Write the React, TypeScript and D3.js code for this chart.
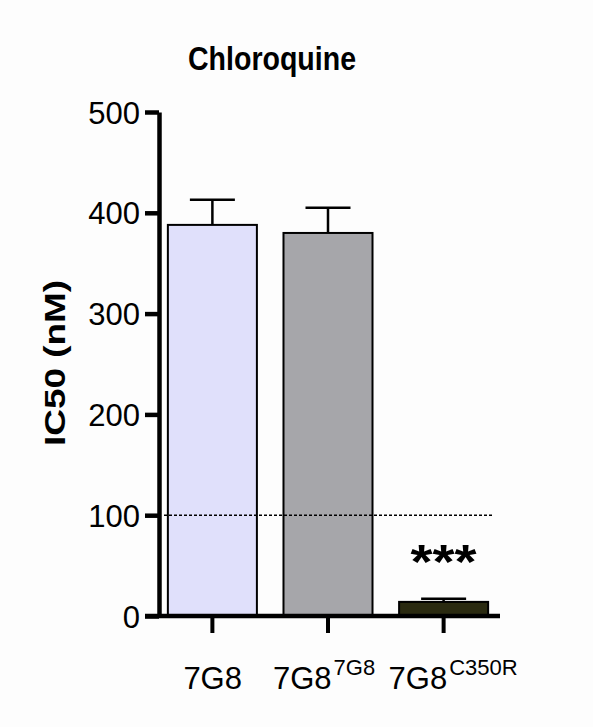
import { useEffect, useRef } from 'react'
import * as d3 from 'd3'

const strains = ['7G8', '7G8', '7G8']
const superscripts = ['', '7G8', 'C350R']
const ic50 = [388, 380, 14]
const sem = [25, 25, 3]
const barColors = ['#e0e0fb', '#a6a6aa', '#2a2a10']
const yTicks = [0, 100, 200, 300, 400, 500]
const threshold = 100

export default function App() {
  const svgRef = useRef<SVGSVGElement>(null)
  const width = 593
  const height = 727

  useEffect(() => {
    if (!svgRef.current) return
    const svg = d3.select(svgRef.current)
    svg.selectAll('*').remove()

    const font = 'Liberation Sans, Arial, sans-serif'

    const yScale = d3.scaleLinear().domain([0, 500]).range([616, 112])
    const xScale = d3.scaleBand<number>()
      .domain(d3.range(strains.length))
      .range([154, 502])
      .paddingInner(0.23)
      .paddingOuter(0.12)

    svg.append('rect').attr('width', width).attr('height', height).attr('fill', '#fdfdfd')

    // title
    svg.append('text')
      .attr('x', 272).attr('y', 70)
      .attr('text-anchor', 'middle')
      .attr('font-family', font)
      .attr('font-weight', 'bold')
      .attr('font-size', 33)
      .attr('textLength', 168)
      .attr('lengthAdjust', 'spacingAndGlyphs')
      .text('Chloroquine')

    // bars
    const bw = xScale.bandwidth()
    svg.selectAll('.bar')
      .data(ic50)
      .enter().append('rect')
      .attr('x', (d, i) => xScale(i)!)
      .attr('y', d => yScale(d))
      .attr('width', bw)
      .attr('height', d => yScale(0) - yScale(d))
      .attr('fill', (d, i) => barColors[i])
      .attr('stroke', '#000')
      .attr('stroke-width', 2)

    // error bars
    const capW = 45
    ic50.forEach((v, i) => {
      const cx = xScale(i)! + bw / 2
      svg.append('line')
        .attr('x1', cx).attr('x2', cx)
        .attr('y1', yScale(v)).attr('y2', yScale(v + sem[i]))
        .attr('stroke', '#000').attr('stroke-width', 2.5)
      svg.append('line')
        .attr('x1', cx - capW / 2).attr('x2', cx + capW / 2)
        .attr('y1', yScale(v + sem[i])).attr('y2', yScale(v + sem[i]))
        .attr('stroke', '#000').attr('stroke-width', 2.5)
    })

    // dotted threshold line
    svg.append('line')
      .attr('x1', 164).attr('x2', 494)
      .attr('y1', yScale(threshold)).attr('y2', yScale(threshold))
      .attr('stroke', '#000').attr('stroke-width', 1.5)
      .attr('stroke-dasharray', '3,2')

    // y axis
    const yAxis = svg.append('g')
      .attr('transform', 'translate(159,0)')
      .call(d3.axisLeft(yScale).tickValues(yTicks).tickSize(14).tickSizeOuter(0).tickPadding(5))
    yAxis.select('.domain').attr('stroke-width', 4.5).attr('stroke', '#000')
    yAxis.selectAll('.tick line').attr('stroke-width', 4.5).attr('stroke', '#000')
    yAxis.selectAll('.tick text')
      .attr('font-family', font).attr('font-size', 31).attr('fill', '#000')
      .attr('dy', '0.36em')

    // x axis
    const xAxisG = svg.append('g').attr('transform', `translate(0,${yScale(0)})`)
    xAxisG.append('line')
      .attr('x1', 145).attr('x2', 500)
      .attr('stroke', '#000').attr('stroke-width', 4.5)
    xAxisG.selectAll('.xt')
      .data(strains)
      .enter().append('line')
      .attr('x1', (d, i) => xScale(i)! + bw / 2)
      .attr('x2', (d, i) => xScale(i)! + bw / 2)
      .attr('y1', 0).attr('y2', 17)
      .attr('stroke', '#000').attr('stroke-width', 4)

    // x labels: main text centred left of the tick when a superscript follows
    strains.forEach((s, i) => {
      const cx = xScale(i)! + bw / 2 - (superscripts[i] ? 26 : 0)
      const t = svg.append('text')
        .attr('x', cx - 29).attr('y', 689)
        .attr('text-anchor', 'start')
        .attr('font-family', font)
        .attr('font-size', 31)
        .attr('fill', '#000')
      t.append('tspan').text(s)
      if (superscripts[i]) {
        t.append('tspan')
          .attr('font-size', 22)
          .attr('dy', -14)
          .attr('dx', 2)
          .text(superscripts[i])
      }
    })

    // significance stars
    svg.append('text')
      .attr('x', xScale(2)! + bw / 2).attr('y', 578)
      .attr('text-anchor', 'middle')
      .attr('font-family', font)
      .attr('font-weight', 'bold')
      .attr('font-size', 48)
      .attr('textLength', 66)
      .attr('lengthAdjust', 'spacingAndGlyphs')
      .text('***')

    // y label
    svg.append('text')
      .attr('transform', 'translate(65,363) rotate(-90)')
      .attr('text-anchor', 'middle')
      .attr('font-family', font)
      .attr('font-weight', 'bold')
      .attr('font-size', 30)
      .attr('textLength', 166)
      .attr('lengthAdjust', 'spacingAndGlyphs')
      .text('IC50 (nM)')
  }, [])

  return (
    <svg ref={svgRef} width={width} height={height}
      style={{ position: 'absolute', left: 0, top: 0 }} />
  )
}
